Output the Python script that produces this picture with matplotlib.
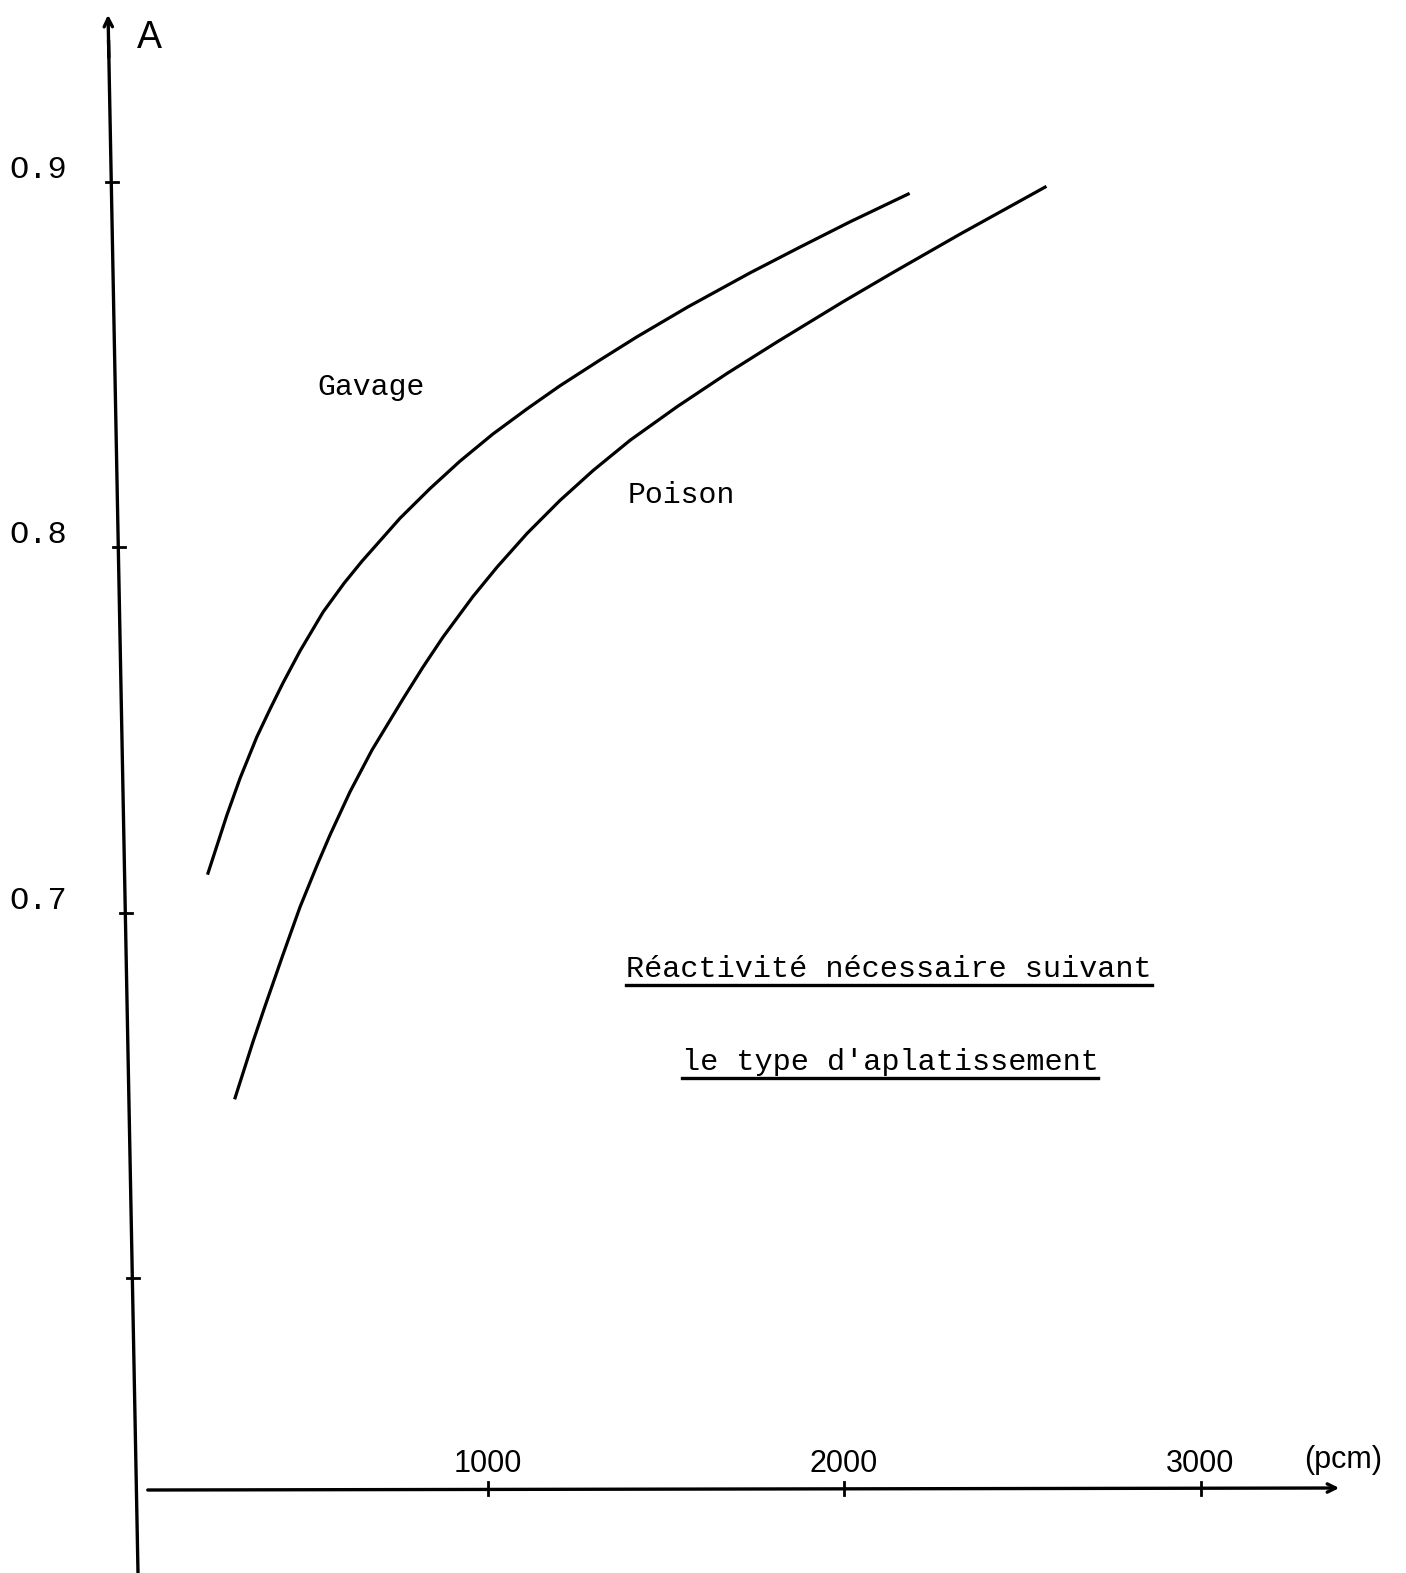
import matplotlib
matplotlib.use('Agg')
import matplotlib.pyplot as plt

# Reactivity (pcm) vs A
gavage_x = [216, 250, 269, 306, 353, 390, 426, 474, 539, 598, 648, 755, 839, 923,
            1015, 1111, 1203, 1316, 1419, 1562, 1736, 1877, 2017, 2180]
gavage_y = [0.7108, 0.7210, 0.7267, 0.7368, 0.7481, 0.7557, 0.7628, 0.7716, 0.7823,
            0.7902, 0.7962, 0.8080, 0.8161, 0.8236, 0.8310, 0.8379, 0.8442, 0.8513,
            0.8576, 0.8658, 0.8751, 0.8822, 0.8891, 0.8967]

poison_x = [292, 342, 376, 426, 474, 522, 558, 614, 676, 763, 819, 875, 959, 1027,
            1111, 1203, 1296, 1400, 1532, 1672, 1812, 1997, 2137, 2325, 2438, 2564]
poison_y = [0.6493, 0.6646, 0.6744, 0.6884, 0.7015, 0.7130, 0.7212, 0.7330, 0.7445,
            0.7585, 0.7672, 0.7754, 0.7865, 0.7946, 0.8038, 0.8128, 0.8210, 0.8293,
            0.8385, 0.8476, 0.8562, 0.8672, 0.8752, 0.8857, 0.8918, 0.8986]

y_ticks = [0.9, 0.8, 0.7, 0.6]
y_ticklabels = ['O.9', 'O.8', 'O.7', '']
x_ticks = [1000, 2000, 3000]
x_ticklabels = ['1000', '2000', '3000']

title_lines = ["Réactivité nécessaire suivant", "le type d'aplatissement"]

W, H = 1406, 1573
fig = plt.figure(figsize=(W / 100, H / 100), dpi=100)
ax = fig.add_axes([0, 0, 1, 1])
ax.axis('off')

# pixel <-> data mapping of the scan
x0_px, px_per_pcm = 131, 0.3565
y09_px, px_per_unit = 182, 3653
ax.set_xlim((0 - x0_px) / px_per_pcm, (W - x0_px) / px_per_pcm)
ax.set_ylim(0.9 - (H - y09_px) / px_per_unit, 0.9 + y09_px / px_per_unit)

def dx(px):
    return (px - x0_px) / px_per_pcm

def dy(py):
    return 0.9 - (py - y09_px) / px_per_unit

def fig_xy(px, py):
    return px / W, 1 - py / H

mono = 'Liberation Mono'
lw_axis = 2.4

# slanted hand-drawn y axis
ytop_px, ybot_px = 12, 1573
xtop_px, xbot_px = 108, 138
def axis_x_at(py):
    return xtop_px + (xbot_px - xtop_px) * (py - ytop_px) / (ybot_px - ytop_px)

ax.plot([dx(axis_x_at(40)), dx(xbot_px)], [dy(40), dy(ybot_px)], color='black', lw=lw_axis,
        solid_capstyle='butt')
ax.annotate('', xy=(dx(xtop_px), dy(ytop_px)), xytext=(dx(axis_x_at(60)), dy(60)),
            arrowprops=dict(arrowstyle='->,head_length=0.6,head_width=0.3', color='black', lw=lw_axis))
ax.text(*fig_xy(149, 38), 'A', transform=fig.transFigure, ha='center', va='center',
        fontsize=27, family=['Liberation Sans Narrow', 'Liberation Sans'])

for v, lab in zip(y_ticks, y_ticklabels):
    py = y09_px + (0.9 - v) * px_per_unit
    ax_px = axis_x_at(py)
    ax.plot([dx(ax_px - 5), dx(ax_px + 7)], [v, v], color='black', lw=2)
    if lab:
        ax.text(*fig_xy(38, py - 12), lab, transform=fig.transFigure, ha='center', va='center',
                fontsize=23, family=mono)

# x axis
xaxis_py = 1488
ax.annotate('', xy=(dx(1342), dy(xaxis_py)), xytext=(dx(145), dy(xaxis_py + 2)),
            arrowprops=dict(arrowstyle='->,head_length=0.6,head_width=0.3', color='black', lw=lw_axis))
for v, lab in zip(x_ticks, x_ticklabels):
    ax.plot([v, v], [dy(xaxis_py - 6), dy(xaxis_py + 7)], color='black', lw=2)
    ax.text(v, dy(xaxis_py - 24), lab, ha='center', va='center', fontsize=22,
            family='Liberation Sans')
ax.text(*fig_xy(1343, 1460), '(pcm)', transform=fig.transFigure, ha='center', va='center',
        fontsize=22, family='Liberation Sans')

# curves
ax.plot(gavage_x, gavage_y, color='black', lw=2.3, solid_joinstyle='round')
ax.plot(poison_x, poison_y, color='black', lw=2.3, solid_joinstyle='round')

ax.text(*fig_xy(371, 395), 'Gavage', transform=fig.transFigure, ha='center', va='baseline',
        fontsize=21.5, family=mono)
ax.text(*fig_xy(681, 503), 'Poison', transform=fig.transFigure, ha='center', va='baseline',
        fontsize=21.5, family=mono)

# underlined caption
caption = []
for line, (cx, base) in zip(title_lines, [(889, 977), (890, 1070)]):
    t = ax.text(*fig_xy(cx, base), line, transform=fig.transFigure, ha='center', va='baseline',
                fontsize=21.8, family=mono)
    caption.append((t, base))

fig.canvas.draw()
renderer = fig.canvas.get_renderer()
for t, base in caption:
    bb = t.get_window_extent(renderer)
    uy = 1 - (base + 8) / H
    fig.add_artist(plt.Line2D([bb.x0 / W, bb.x1 / W], [uy, uy], color='black', lw=2.4,
                              transform=fig.transFigure))

fig.savefig('out.png', dpi=100, facecolor='white')
